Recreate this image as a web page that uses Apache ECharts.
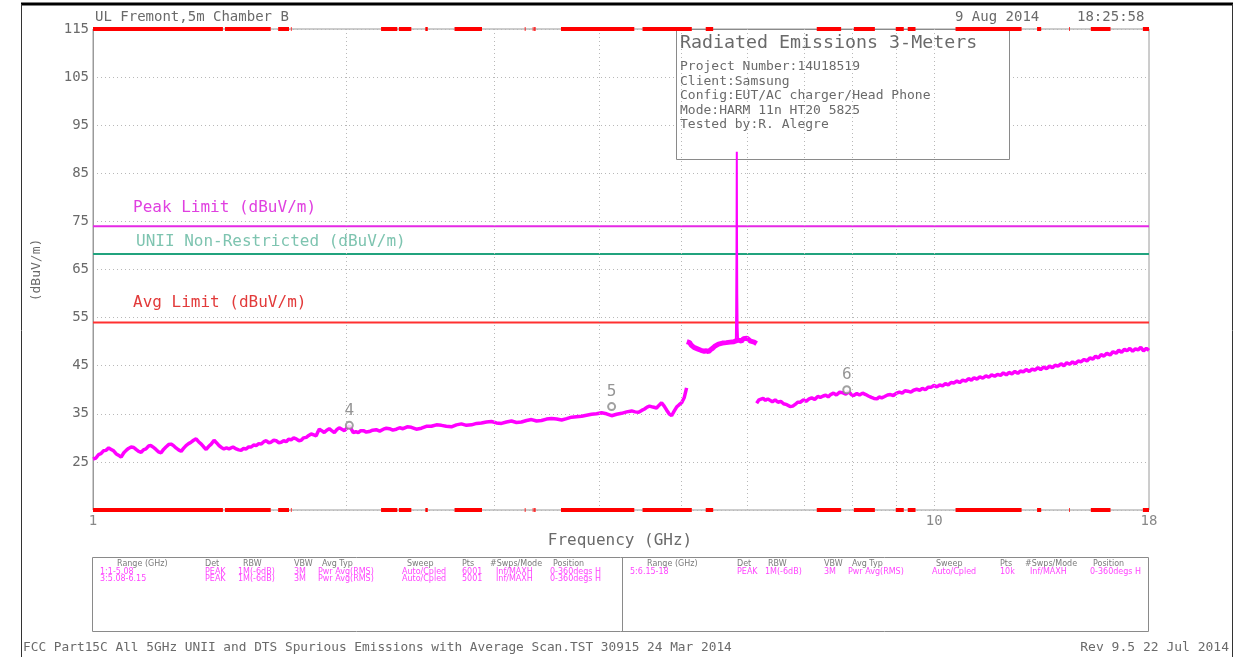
<!DOCTYPE html>
<html>
<head>
<meta charset="utf-8">
<script src="https://cdn.jsdelivr.net/npm/echarts@6/dist/echarts.min.js"></script>
<style>
html,body{margin:0;padding:0;background:#fff;}
#c{width:1252px;height:657px;}
</style>
</head>
<body>
<div id="c"></div>
<script>
// ---------------- DATA ----------------
const xTickFreqs = [1, 10, 18];
const xTickLabels = ['1', '10', '18'];
const gridFreqs = [2, 3, 4, 5, 6, 7, 8, 9, 10];

const peakLimit = 74;
const uniiLimit = 68.2;
const avgLimit = 54;

// restricted bands (GHz) shown as red bars on top/bottom edges
const restrictedBands = [
  [1.0, 1.427], [1.435, 1.6265], [1.6455, 1.6465], [1.66, 1.71], [1.7188, 1.7222],
  [2.2, 2.3], [2.31, 2.39], [2.4835, 2.5], [2.69, 2.9], [3.26, 3.267], [3.332, 3.339],
  [3.3458, 3.358], [3.6, 4.4], [4.5, 5.15], [5.35, 5.46], [7.25, 7.75], [8.025, 8.5],
  [9.0, 9.2], [9.3, 9.5], [10.6, 12.7], [13.25, 13.4], [14.47, 14.5], [15.35, 16.2], [17.7, 18]
];

// trace range 1: 1 - 5.08 GHz
const seg1 = [
[1.000,25.6],[1.008,25.8],[1.015,26.5],[1.022,26.7],[1.029,27.3],[1.036,27.4],[1.044,27.9],[1.051,27.6],
[1.058,27.3],[1.065,26.7],[1.072,26.4],[1.080,26.0],[1.088,26.9],[1.095,27.4],[1.102,27.8],[1.110,28.1],
[1.118,28.0],[1.125,27.6],[1.133,27.2],[1.141,27.0],[1.148,27.5],[1.156,27.7],[1.164,28.3],[1.172,28.4],
[1.180,28.0],[1.188,27.6],[1.196,27.1],[1.205,26.9],[1.213,27.6],[1.221,28.1],[1.230,28.6],[1.238,28.7],
[1.246,28.4],[1.255,27.9],[1.264,27.5],[1.273,27.2],[1.281,27.8],[1.290,28.4],[1.299,28.8],[1.308,29.1],
[1.317,29.5],[1.326,29.8],[1.335,29.2],[1.345,28.7],[1.354,28.1],[1.363,27.6],[1.372,28.2],[1.382,28.7],
[1.393,29.5],[1.402,29.0],[1.412,28.4],[1.421,28.0],[1.431,27.7],[1.441,27.9],[1.451,27.7],[1.467,28.1],
[1.480,27.7],[1.490,27.5],[1.500,27.4],[1.510,27.8],[1.521,27.7],[1.531,28.1],[1.542,28.1],[1.552,28.5],
[1.563,28.4],[1.574,28.8],[1.585,28.7],[1.596,29.2],[1.607,29.4],[1.617,29.0],[1.628,29.1],[1.640,29.5],
[1.651,29.4],[1.662,29.0],[1.674,29.1],[1.685,29.4],[1.697,29.2],[1.708,29.7],[1.720,29.6],[1.732,30.0],
[1.744,29.8],[1.756,29.4],[1.768,29.5],[1.780,30.0],[1.793,30.1],[1.805,30.5],[1.817,30.8],[1.830,30.6],
[1.842,30.4],[1.850,31.2],[1.858,31.8],[1.870,31.5],[1.883,31.1],[1.896,31.6],[1.909,31.9],[1.922,31.5],
[1.936,31.1],[1.949,31.7],[1.962,32.1],[1.976,31.8],[1.990,31.5],[2.003,32.0],[2.017,32.5],[2.028,31.8],
[2.039,31.1],[2.053,31.3],[2.067,31.1],[2.081,31.5],[2.096,31.5],[2.113,31.2],[2.130,31.3],[2.150,31.6],
[2.171,31.7],[2.192,31.4],[2.214,31.8],[2.232,32.0],[2.251,31.9],[2.272,31.6],[2.294,31.8],[2.315,32.1],
[2.336,31.9],[2.363,32.3],[2.390,32.2],[2.423,31.8],[2.457,32.0],[2.490,32.4],[2.525,32.4],[2.560,32.7],
[2.595,32.6],[2.630,32.4],[2.667,32.3],[2.704,32.7],[2.741,32.9],[2.779,32.6],[2.818,32.7],[2.857,33.0],
[2.896,33.1],[2.936,33.3],[2.976,33.4],[3.017,33.1],[3.059,33.0],[3.101,33.3],[3.144,33.5],[3.187,33.2],
[3.231,33.3],[3.276,33.6],[3.321,33.8],[3.367,33.5],[3.413,33.6],[3.460,33.9],[3.508,34.0],[3.557,33.9],
[3.606,33.7],[3.656,34.0],[3.706,34.3],[3.757,34.4],[3.809,34.5],[3.861,34.7],[3.914,34.9],[3.968,35.0],
[4.023,35.2],[4.078,35.0],[4.135,34.6],[4.192,34.9],[4.250,35.1],[4.309,35.4],[4.368,35.6],[4.410,35.4],
[4.452,35.3],[4.490,35.7],[4.525,36.0],[4.557,36.4],[4.587,36.6],[4.630,36.4],[4.676,36.2],[4.710,36.8],
[4.741,37.3],[4.775,36.6],[4.806,35.8],[4.840,35.0],[4.873,34.6],[4.905,35.5],[4.940,36.4],[4.975,36.9],
[5.009,37.3],[5.045,38.4],[5.077,40.4]
];

// trace range 3: 5.08 - 6.15 GHz (noise floor around the carrier)
const seg2 = [
[5.08,50.0],[5.10,49.6],[5.12,49.8],[5.14,49.3],[5.16,49.2],[5.18,48.8],[5.20,48.9],[5.23,48.5],
[5.25,48.6],[5.28,48.2],[5.30,48.3],[5.33,48.0],[5.36,48.1],[5.39,47.9],[5.42,48.3],[5.45,48.6],
[5.48,49.0],[5.51,49.4],[5.54,49.5],[5.57,49.9],[5.60,49.7],[5.63,50.0],[5.66,49.8],[5.69,50.2],
[5.72,49.9],[5.75,50.3],[5.78,50.0],[5.80,50.2],[5.81,50.4],[5.845,50.3],[5.87,50.4],[5.90,50.1],
[5.93,50.6],[5.96,50.4],[5.99,50.7],[6.02,50.3],[6.05,50.1],[6.08,49.8],[6.11,49.9],[6.15,49.6]
];
// carrier at 5.825 GHz
const carrier = [
[5.81,50.4],[5.815,56],[5.82,68],[5.825,89.5],[5.828,72],[5.832,60],[5.838,53],[5.845,50.3]
];

// trace range 5: 6.15 - 18 GHz
const seg3 = [
[6.15,37.2],[6.19,37.9],[6.22,37.6],[6.26,38.2],[6.30,37.8],[6.34,38.1],[6.37,38.0],[6.42,37.5],
[6.47,37.9],[6.52,37.4],[6.57,37.6],[6.62,37.1],[6.68,36.9],[6.74,36.5],[6.79,36.6],[6.84,37.0],
[6.88,37.4],[6.93,37.4],[6.99,37.9],[7.04,37.6],[7.10,38.1],[7.15,38.3],[7.21,38.0],[7.27,38.6],
[7.32,38.4],[7.38,38.7],[7.43,38.9],[7.48,38.5],[7.53,39.0],[7.59,39.3],[7.65,38.9],[7.72,39.5],
[7.78,39.4],[7.85,39.1],[7.91,39.6],[7.97,39.0],[8.02,38.8],[8.09,39.2],[8.15,38.9],[8.22,39.3],
[8.29,39.0],[8.35,38.7],[8.42,38.4],[8.48,38.2],[8.55,38.1],[8.60,38.5],[8.66,38.3],[8.73,38.6],
[8.80,38.9],[8.87,39.0],[8.94,38.8],[9.02,39.3],[9.09,39.5],[9.16,39.3],[9.23,39.8],[9.30,39.7],
[9.38,39.5],[9.45,39.9],[9.53,40.1],[9.61,39.9],[9.68,40.3],[9.76,40.0],[9.83,40.5],[9.91,40.5],
[9.99,40.9],[10.07,40.6],[10.15,41.0],[10.23,40.8],[10.31,41.3],[10.39,41.0],[10.47,41.5],[10.55,41.4],
[10.64,41.8],[10.72,41.5],[10.81,42.0],[10.90,41.8],[10.98,42.3],[11.07,42.0],[11.15,42.5],[11.24,42.2],
[11.33,42.7],[11.42,42.4],[11.52,42.9],[11.61,42.6],[11.70,43.1],[11.80,42.8],[11.89,43.2],[11.99,43.0],
[12.08,43.5],[12.18,43.1],[12.27,43.6],[12.37,43.3],[12.47,43.8],[12.57,43.4],[12.66,43.9],[12.76,43.7],
[12.86,44.2],[12.97,43.8],[13.07,44.3],[13.17,44.1],[13.28,44.6],[13.38,44.2],[13.49,44.7],[13.60,44.4],
[13.71,44.9],[13.82,44.6],[13.92,45.1],[14.03,44.9],[14.15,45.4],[14.26,45.0],[14.37,45.6],[14.49,45.3],
[14.60,45.8],[14.71,45.4],[14.83,46.0],[14.94,45.8],[15.07,46.3],[15.19,46.0],[15.31,46.6],[15.44,46.4],
[15.55,47.0],[15.67,46.6],[15.79,47.3],[15.91,47.0],[16.04,47.6],[16.18,47.2],[16.31,47.9],[16.45,47.6],
[16.57,48.2],[16.70,47.8],[16.83,48.4],[16.95,48.1],[17.08,48.6],[17.21,48.0],[17.34,48.5],[17.47,48.3],
[17.60,48.8],[17.73,48.1],[17.87,48.6],[18.0,48.2]
];

const markerFreqs = [2.017, 4.135, 7.87];
const markerValues = [32.6, 36.5, 40.0];
const markerNames = ['4', '5', '6'];

// ---------------- CHART ----------------
const MONO = '"DejaVu Sans Mono", "Liberation Mono", monospace';
const TXT = '#6a6a6a';
const chart = echarts.init(document.getElementById('c'), null, {renderer: 'canvas'});

const bandLines = [];
restrictedBands.forEach(b => {
  bandLines.push([{coord: [b[0], 115]}, {coord: [b[1], 115]}]);
  bandLines.push([{coord: [b[0], 15]}, {coord: [b[1], 15]}]);
});

function txt(x, y, s, size, color, align, extra) {
  return Object.assign({
    type: 'text', x: x, y: y, z: 10,
    style: {text: s, fill: color || TXT, font: (size || 14) + 'px ' + MONO,
            textAlign: align || 'left', textVerticalAlign: 'middle'}
  }, extra || {});
}
function small(x, y, s, color) {
  return {type: 'text', x: x, y: y, z: 10,
    style: {text: s, fill: color, font: '8px "DejaVu Sans"', textAlign: 'left', textVerticalAlign: 'middle'}};
}

const TH = '#7a7a7a', TM = '#ff44ff';
const tableLeftX = [117, 205, 243, 294, 322, 407, 462, 490, 553];
const tableRightX = [647, 737, 768, 824, 852, 936, 1000, 1025, 1093];
const heads = ['Range (GHz)', 'Det', 'RBW', 'VBW', 'Avg Typ', 'Sweep', 'Pts', '#Swps/Mode', 'Position'];
const rowL1 = ['1:1-5.08', 'PEAK', '1M(-6dB)', '3M', 'Pwr Avg(RMS)', 'Auto/Cpled', '6001', 'Inf/MAXH', '0-360degs H'];
const rowL2 = ['3:5.08-6.15', 'PEAK', '1M(-6dB)', '3M', 'Pwr Avg(RMS)', 'Auto/Cpled', '5001', 'Inf/MAXH', '0-360degs H'];
const rowR1 = ['5:6.15-18', 'PEAK', '1M(-6dB)', '3M', 'Pwr Avg(RMS)', 'Auto/Cpled', '10k', 'Inf/MAXH', '0-360degs H'];
const tableEls = [];
heads.forEach((h, i) => {
  tableEls.push(small(tableLeftX[i], 564, h, TH));
  tableEls.push(small(tableRightX[i], 564, h, TH));
});
const rowXL = [100, 205, 238, 294, 318, 402, 462, 496, 550];
const rowXR = [630, 737, 765, 824, 848, 932, 1000, 1030, 1090];
rowL1.forEach((s, i) => tableEls.push(small(rowXL[i], 572, s, TM)));
rowL2.forEach((s, i) => tableEls.push(small(rowXL[i], 579, s, TM)));
rowR1.forEach((s, i) => tableEls.push(small(rowXR[i], 572, s, TM)));

const option = {
  animation: false,
  backgroundColor: '#fff',
  grid: {left: 93, top: 29, width: 1056, height: 481, show: true, borderColor: '#9a9a9a', borderWidth: 1, backgroundColor: 'transparent'},
  xAxis: {
    type: 'log', logBase: 10, min: 1, max: 18,
    axisLine: {show: false}, axisTick: {show: false}, axisLabel: {show: false},
    splitLine: {show: false}, minorSplitLine: {show: false}
  },
  yAxis: {
    type: 'value', min: 15, max: 115, interval: 10,
    axisLine: {show: true, lineStyle: {color: '#9a9a9a'}},
    axisTick: {show: false},
    axisLabel: {color: TXT, fontFamily: MONO, fontSize: 14, margin: 4,
      formatter: v => (v === 15 ? '' : String(v))},
    splitLine: {show: true, lineStyle: {color: '#b8b8b8', type: [1, 3], width: 1}}
  },
  series: [
    { // vertical dotted grid
      type: 'line', data: [], z: 0, silent: true,
      markLine: {silent: true, symbol: ['none', 'none'], label: {show: false},
        lineStyle: {color: '#b8b8b8', type: [1, 3], width: 1},
        data: gridFreqs.map(f => ({xAxis: f}))}
    },
    {type: 'line', data: [[1, peakLimit], [18, peakLimit]], z: 2, showSymbol: false, silent: true,
      lineStyle: {color: '#e628e6', width: 2}},
    {type: 'line', data: [[1, uniiLimit], [18, uniiLimit]], z: 2, showSymbol: false, silent: true,
      lineStyle: {color: '#21a37e', width: 2}},
    {type: 'line', data: [[1, avgLimit], [18, avgLimit]], z: 2, showSymbol: false, silent: true,
      lineStyle: {color: '#ff3030', width: 2}},
    {type: 'line', data: seg1, z: 3, showSymbol: false, silent: true,
      lineStyle: {color: '#ff00ff', width: 3.5}},
    {type: 'line', data: seg2, z: 3, showSymbol: false, silent: true,
      lineStyle: {color: '#ff00ff', width: 5}},
    {type: 'line', data: carrier, z: 3, showSymbol: false, silent: true,
      lineStyle: {color: '#ff00ff', width: 2}},
    {type: 'line', data: seg3, z: 3, showSymbol: false, silent: true,
      lineStyle: {color: '#ff00ff', width: 3.5}},
    { // restricted band bars
      type: 'line', data: [], z: 4, silent: true,
      markLine: {silent: true, symbol: ['none', 'none'], label: {show: false},
        lineStyle: {color: '#ff0000', type: 'solid', width: 4},
        data: bandLines}
    },
    { // markers
      type: 'scatter', z: 5, silent: true,
      data: markerFreqs.map((f, i) => ({value: [f, markerValues[i]], name: markerNames[i]})),
      symbol: 'emptyCircle', symbolSize: 7,
      itemStyle: {color: '#8a8a8a', borderColor: '#8a8a8a', borderWidth: 1.3},
      label: {show: true, position: 'top', distance: 2, formatter: p => p.name,
        color: '#7a7a7a', fontFamily: MONO, fontSize: 16}
    },
    { // x tick labels
      type: 'scatter', z: 5, silent: true,
      data: xTickFreqs.map((f, i) => ({value: [f, 15], name: xTickLabels[i]})),
      symbolSize: 0,
      label: {show: true, position: 'bottom', distance: 4, formatter: p => p.name,
        color: TXT, fontFamily: MONO, fontSize: 14}
    }
  ],
  graphic: {
    elements: [
      // page frame
      {type: 'line', z: 20, shape: {x1: 21, y1: 4, x2: 1233, y2: 4}, style: {stroke: '#000', lineWidth: 3}},
      {type: 'line', z: 20, shape: {x1: 21.5, y1: 4, x2: 21.5, y2: 657}, style: {stroke: '#333', lineWidth: 1}},
      {type: 'line', z: 20, shape: {x1: 1232.5, y1: 4, x2: 1232.5, y2: 657}, style: {stroke: '#333', lineWidth: 1}},
      // info box
      {type: 'rect', z: 1, shape: {x: 676.5, y: 29.5, width: 333, height: 130},
        style: {fill: '#fff', stroke: '#8a8a8a', lineWidth: 1}},
      txt(680, 43, 'Radiated Emissions 3-Meters', 18.3),
      txt(680, 67, 'Project Number:14U18519', 13),
      txt(680, 82, 'Client:Samsung', 13),
      txt(680, 96, 'Config:EUT/AC charger/Head Phone', 13),
      txt(680, 111, 'Mode:HARM 11n HT20 5825', 13),
      txt(680, 125, 'Tested by:R. Alegre', 13),
      // headers
      txt(95, 17, 'UL Fremont,5m Chamber B', 14),
      txt(955, 17, '9 Aug 2014', 14),
      txt(1077, 17, '18:25:58', 14),
      // limit labels
      txt(133, 208, 'Peak Limit (dBuV/m)', 16, '#e040e0'),
      txt(136, 242, 'UNII Non-Restricted (dBuV/m)', 16, '#7ec4b0'),
      txt(133, 303, 'Avg Limit (dBuV/m)', 16, '#e23a3a'),
      // axis titles
      txt(620, 541, 'Frequency (GHz)', 16, TXT, 'center'),
      {type: 'text', z: 10, x: 37, y: 270, rotation: Math.PI / 2,
        style: {text: '(dBuV/m)', fill: TXT, font: '13px ' + MONO, textAlign: 'center', textVerticalAlign: 'middle'}},
      // bottom table
      {type: 'rect', z: 1, shape: {x: 92.5, y: 557.5, width: 1056, height: 74},
        style: {fill: 'none', stroke: '#8a8a8a', lineWidth: 1}},
      {type: 'line', z: 1, shape: {x1: 622.5, y1: 557, x2: 622.5, y2: 632}, style: {stroke: '#8a8a8a', lineWidth: 1}},
      // footer
      txt(23, 648, 'FCC Part15C All 5GHz UNII and DTS Spurious Emissions with Average Scan.TST 30915 24 Mar 2014', 12.8),
      txt(1229, 648, 'Rev 9.5 22 Jul 2014', 13, TXT, 'right')
    ].concat(tableEls)
  }
};
chart.setOption(option);
</script>
</body>
</html>
